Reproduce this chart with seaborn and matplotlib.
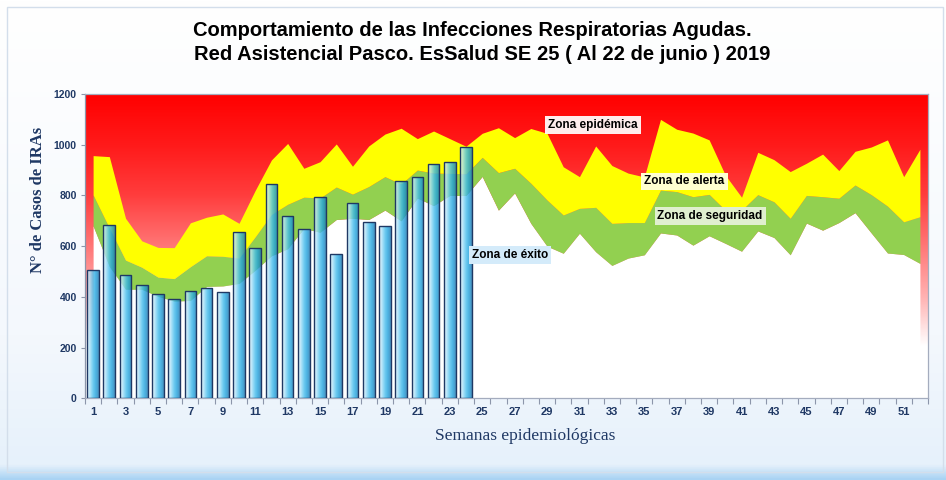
import numpy as np
import pandas as pd
import seaborn as sns
import matplotlib.pyplot as plt
from matplotlib.colors import LinearSegmentedColormap
from matplotlib.patches import Rectangle

# Semanas epidemiologicas 1..52
semanas = list(range(1, 53))

# Casos de IRAs notificados (SE 1 - 24)
casos = [506, 683, 486, 448, 413, 393, 424, 434, 418, 656, 593, 844,
         718, 669, 794, 569, 769, 694, 681, 856, 874, 925, 932, 991]

# Limite superior de cada zona del canal endemico
exito = [680, 520, 430, 430, 402, 383, 386, 441, 443, 453, 505, 562,
         590, 670, 655, 705, 710, 705, 742, 700, 790, 760, 800, 800,
         875, 742, 810, 690, 600, 572, 651, 578, 524, 553, 566, 652,
         644, 604, 641, 611, 580, 660, 634, 566, 691, 663, 693, 732,
         652, 573, 567, 532]
seguridad = [802, 672, 545, 517, 478, 472, 519, 562, 560, 553, 637, 725,
             765, 793, 790, 833, 805, 835, 874, 845, 900, 888, 887, 885,
             950, 890, 907, 848, 782, 723, 749, 753, 690, 693, 693, 821,
             815, 795, 804, 742, 742, 803, 775, 710, 800, 795, 789, 841,
             803, 758, 696, 716]
alerta = [957, 953, 710, 621, 595, 594, 692, 714, 727, 690, 820, 940,
          1005, 907, 933, 1003, 915, 995, 1042, 1065, 1024, 1054, 1024, 994,
          1045, 1067, 1028, 1064, 1045, 913, 874, 995, 918, 888, 873, 1100,
          1061, 1046, 1019, 880, 793, 970, 941, 894, 927, 963, 898, 974,
          991, 1019, 874, 982]

y_ticks = [0, 200, 400, 600, 800, 1000, 1200]

navy = "#1F3864"

sns.set_theme(style="white")
plt.rcParams['font.family'] = ['Liberation Sans', 'DejaVu Sans']

fig = plt.figure(figsize=(9.46, 4.8), dpi=100)

# fondo de la lamina
bg = fig.add_axes([0, 0, 1, 1], zorder=-5)
bg_cmap = LinearSegmentedColormap.from_list(
    "bg", [(0, "#A9D3F3"), (0.03, "#E6F1FB"), (0.3, "#F4F8FD"), (1, "#FFFFFF")])
bg.imshow(np.linspace(0, 1, 256).reshape(-1, 1), extent=(0, 1, 0, 1),
          aspect="auto", cmap=bg_cmap, origin="lower")
bg.axis("off")
fig.patches.append(Rectangle((7 / 946, 8 / 480), 936 / 946, 465 / 480,
                             transform=fig.transFigure, fill=False,
                             ec="#D3DEEB", lw=1))

ax = fig.add_axes([85 / 946, 81.7 / 480, 843 / 946, 304.3 / 480])
pos = np.arange(len(semanas))

# zona epidemica: degradado rojo del area de trazado
epi_cmap = LinearSegmentedColormap.from_list(
    "epi", [(0, "#FFFFFF"), (0.17, "#FFFFFF"), (0.33, "#FFB2B2"),
            (0.5, "#FF7676"), (0.67, "#FF3C3C"), (0.83, "#FF1A1A"),
            (1, "#FF0000")])
ax.imshow(np.linspace(0, 1, 256).reshape(-1, 1), extent=(-0.5, 51.5, 0, 1200),
          aspect="auto", cmap=epi_cmap, origin="lower", zorder=0)

ax.fill_between(pos, 0, exito, color="white", lw=0, zorder=1)
ax.fill_between(pos, exito, seguridad, color="#92D050", lw=0, zorder=1)
ax.fill_between(pos, seguridad, alerta, color="#FFFF00", lw=0, zorder=1)

df = pd.DataFrame({"semana": [str(s) for s in semanas[:len(casos)]],
                   "casos": casos})
sns.barplot(data=df, x="semana", y="casos", order=[str(s) for s in semanas],
            width=0.72, color="#3DB8EB", saturation=1, edgecolor=navy,
            linewidth=1, ax=ax, zorder=4)

# relleno degradado de las barras
bar_cmap = LinearSegmentedColormap.from_list(
    "bar", ["#E6F7FD", "#A2DEF7", "#4CC0EE", "#20A0DC", "#1B78B2"])
grad_h = np.linspace(0, 1, 64).reshape(1, -1)
for p in list(ax.patches):
    h = p.get_height()
    if not h or np.isnan(h):
        continue
    x0, w = p.get_x(), p.get_width()
    im = ax.imshow(grad_h, extent=(x0, x0 + w, 0, h), aspect="auto",
                   cmap=bar_cmap, alpha=0.8, zorder=3.5)
    im.set_clip_path(p)
    p.set_facecolor("none")

# etiquetas de zonas
zonas = [("Zona epidémica", 30.84, 1076, "#FFEDED"),
         ("Zona de alerta", 36.48, 855, "#FFFFD0"),
         ("Zona de seguridad", 38.06, 719, "#E0EFCF"),
         ("Zona de éxito", 25.7, 565, "#D4EBFA")]
for txt, xi, yv, fc in zonas:
    ax.text(xi, yv, txt, ha="center", va="center", fontsize=8.5,
            fontweight="bold", color="black", zorder=6,
            bbox=dict(boxstyle="square,pad=0.25", fc=fc, ec="none"))

ax.set_xlim(-0.5, 51.5)
ax.set_ylim(0, 1200)
ax.set_yticks(y_ticks)
ax.set_yticklabels([str(v) for v in y_ticks], fontsize=7.5,
                   fontweight="bold", color=navy)
ax.set_xticks(pos[::2])
ax.set_xticklabels([str(s) for s in semanas[::2]], fontsize=8,
                   fontweight="bold", color=navy,
                   family=["Liberation Sans Narrow", "Liberation Sans"])
ax.set_xticks(np.arange(-0.5, 52, 1), minor=True)
ax.tick_params(axis="x", which="major", length=0, pad=6)
ax.tick_params(axis="x", which="minor", length=4, direction="out",
               color="#8C96AA", width=0.8, bottom=True)
ax.tick_params(axis="y", length=3, direction="out", color="#8C96AA",
               width=0.8, left=True, pad=3)
ax.set_xlabel("")
ax.set_ylabel("")
for s in ax.spines.values():
    s.set_color("#A4ACBE")
    s.set_linewidth(0.9)
ax.spines["left"].set_color("#8C96AA")

fig.text(472.8 / 946, 1 - 30 / 480,
         "Comportamiento de las Infecciones Respiratorias Agudas.",
         ha="center", va="center", fontsize=14.5, fontweight="bold",
         color="black")
fig.text(482.5 / 946, 1 - 55 / 480,
         "Red Asistencial Pasco. EsSalud SE 25 ( Al 22 de junio ) 2019",
         ha="center", va="center", fontsize=14.5, fontweight="bold",
         color="black")
fig.text(38 / 946, 1 - 200 / 480, "N° de Casos de IRAs", rotation=90,
         ha="center", va="center", fontsize=12, fontweight="bold",
         color=navy, family=["Liberation Serif", "DejaVu Serif"])
fig.text(525 / 946, 1 - 436 / 480, "Semanas epidemiológicas",
         ha="center", va="center", fontsize=12.5, color=navy,
         family=["Liberation Serif", "DejaVu Serif"])

fig.savefig("out.png", dpi=100)
